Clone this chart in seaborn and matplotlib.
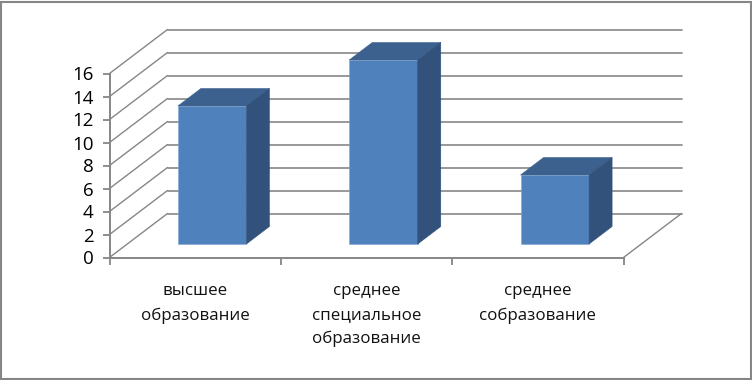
import matplotlib
matplotlib.use('Agg')
import matplotlib.pyplot as plt
import matplotlib.transforms as mtransforms
from matplotlib.patches import Polygon, Rectangle
import pandas as pd
import seaborn as sns

categories = ['высшее\nобразование', 'среднее\nспециальное\nобразование', 'среднее\nсобразование']
values = [12, 16, 6]
y_ticks = [0, 2, 4, 6, 8, 10, 12, 14, 16]

W, H = 752, 380
GRID = '#868686'

sns.set_style('white')
plt.rcParams['font.family'] = ['Open Sans', 'DejaVu Sans']

fig = plt.figure(figsize=(W / 100, H / 100), dpi=100)
ax = fig.add_axes([109.5 / W, 1 - 257.5 / H, 514 / W, 184 / H])

df = pd.DataFrame({'cat': categories, 'val': values})
sns.barplot(data=df, x='cat', y='val', color='#4F81BD', saturation=1, width=0.4, ax=ax, zorder=5)
ax.set_xlim(-0.5, 2.5)
ax.set_ylim(0, 16)


# сдвиг в пикселях от передней плоскости
def shifted(dx, dy):
    return ax.transData + mtransforms.ScaledTranslation(dx / 100, dy / 100, fig.dpi_scale_trans)


# стены: линии сетки и диагонали
back = shifted(58, 44)
for t in y_ticks:
    ax.plot([-0.5, 2.5], [t, t], color=GRID, lw=1.2, transform=back, clip_on=False, zorder=1)
    x0, y0 = ax.transData.transform((-0.5, t))
    x1, y1 = back.transform((-0.5, t))
    ax.add_line(plt.Line2D([x0, x1], [y0, y1], color=GRID, lw=1.0, transform=None, clip_on=False, zorder=1))
x0, y0 = ax.transData.transform((2.5, 0))
x1, y1 = back.transform((2.5, 0))
ax.add_line(plt.Line2D([x0, x1], [y0, y1], color=GRID, lw=1.0, transform=None, clip_on=False, zorder=1))

# объём столбиков
for bar in list(ax.patches):
    l, w, h = bar.get_x(), bar.get_width(), bar.get_height()
    r = l + w
    front = shifted(17, 13.5)
    bar.set_transform(front)
    bar.set_clip_on(False)
    bar.set_edgecolor('#7FA5D4')
    bar.set_linewidth(0.4)
    a = front.transform((l, h))
    b = front.transform((r, h))
    c = front.transform((r, 0))
    depth = (23, 17.5)
    top = [a, b, (b[0] + depth[0], b[1] + depth[1]), (a[0] + depth[0], a[1] + depth[1])]
    side = [b, c, (c[0] + depth[0], c[1] + depth[1]), (b[0] + depth[0], b[1] + depth[1])]
    ax.add_patch(Polygon(top, closed=True, transform=None, fc='#3C618F', ec='#3C618F', lw=0.4, clip_on=False, zorder=6))
    ax.add_patch(Polygon(side, closed=True, transform=None, fc='#32527B', ec='#32527B', lw=0.4, clip_on=False, zorder=6))

# оси
for s in ['top', 'right']:
    ax.spines[s].set_visible(False)
for s in ['left', 'bottom']:
    ax.spines[s].set_color(GRID)
    ax.spines[s].set_linewidth(1.4)
    ax.spines[s].set_zorder(2)

ax.set_xlabel('')
ax.set_ylabel('')
ax.set_yticks(y_ticks)
ax.tick_params(axis='y', length=5, width=1.3, color=GRID, left=True, pad=6.5, labelsize=13.5, labelcolor='black')

# деления между категориями, подписи отдельно по центру категорий
ax.set_xticks([-0.5, 0.5, 1.5, 2.5], [''] * 4)
ax.tick_params(axis='x', length=5, width=1.3, color=GRID, bottom=True)
for i, name in enumerate(categories):
    ax.annotate(name, xy=(i, 0), xycoords=ax.get_xaxis_transform(), xytext=(0, -25.5),
                textcoords='offset pixels', ha='center', va='top', fontsize=12.2, color='#111111',
                linespacing=1.66, annotation_clip=False)

# рамка
fig.add_artist(Rectangle((1 / W, 1 / H), 749.5 / W, 377.5 / H, transform=fig.transFigure,
                         fill=False, ec='#868686', lw=1.5))

fig.savefig('out.png', dpi=100)
